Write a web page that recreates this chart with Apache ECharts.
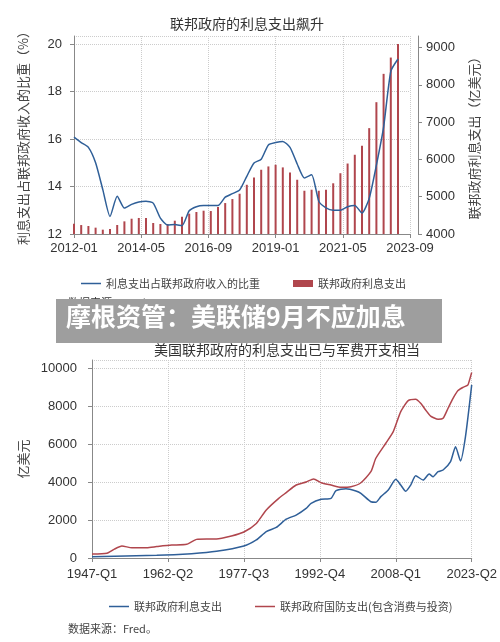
<!DOCTYPE html>
<html><head><meta charset="utf-8">
<script src="https://cdn.jsdelivr.net/npm/echarts@6/dist/echarts.min.js"></script>
<style>html,body{margin:0;padding:0;background:#fff}#c{width:500px;height:642px}</style>
</head><body><div id="c"></div>
<script>
// top chart: quarterly, months since 2012-01
const topTicks = ['2012-01', '2014-05', '2016-09', '2019-01', '2021-05', '2023-09'];
const ratio = [16.08, 15.85, 15.65, 15.0, 13.87, 12.74, 13.59, 13.09, 13.25, 13.35, 13.38, 13.3,
  12.67, 12.38, 12.4, 12.35, 12.98, 13.15, 13.2, 13.2, 13.2, 13.55, 13.7, 13.85, 14.43, 14.99,
  15.15, 15.75, 15.85, 15.9, 15.65, 14.95, 14.36, 14.5, 13.38, 13.1, 13.0, 13.0, 13.15, 13.2,
  12.88, 13.5, 14.9, 16.5, 18.85, 19.37];
const interest = [4277, 4240, 4214, 4170, 4116, 4134, 4241, 4339, 4410, 4430, 4430, 4295,
  4268, 4268, 4357, 4464, 4545, 4590, 4625, 4616, 4723, 4830, 4937, 5080, 5320, 5518,
  5723, 5812, 5857, 5786, 5652, 5455, 5160, 5188, 5160, 5190, 5360, 5630, 5890, 6125,
  6366, 6839, 7535, 8295, 8732, 9098];

// bottom chart: year (fractional) -> 亿美元
const bottomTicks = ['1947-Q1', '1962-Q2', '1977-Q3', '1992-Q4', '2008-Q1', '2023-Q2'];
const intYears = [1947, 1960, 1967, 1972, 1977.5, 1980, 1982, 1984, 1986, 1988, 1990, 1991, 1993,
  1995, 1996, 1998, 2000, 2001, 2003, 2004, 2005, 2006.5, 2008, 2009, 2010, 2011, 2012, 2013.5,
  2014.7, 2015.5, 2016.5, 2017.5, 2019, 2020, 2021, 2022, 2023.25];
const intVals = [70, 140, 230, 350, 630, 950, 1390, 1610, 2040, 2260, 2610, 2880, 3090,
  3140, 3540, 3650, 3530, 3400, 2960, 2930, 3230, 3580, 4140, 3840, 3510, 3840, 4330, 4100,
  4420, 4280, 4540, 4630, 5070, 5860, 5110, 6390, 9110];
const defYears = [1947, 1950, 1951.5, 1953, 1955, 1958, 1960, 1963, 1966, 1968, 1970, 1972, 1975,
  1977.5, 1980, 1982, 1984.5, 1986, 1988, 1990, 1991.5, 1993, 1995, 1997, 1999, 2001, 2003, 2004,
  2006, 2007.5, 2009, 2010.5, 2012, 2013, 2014, 2015, 2016.5, 2017.5, 2018.5, 2019.5, 2020.5,
  2021.5, 2022.5, 2023.25];
const defVals = [210, 250, 470, 630, 540, 540, 600, 680, 720, 980, 1000, 1000, 1160,
  1370, 1820, 2530, 3140, 3440, 3840, 4000, 4160, 3960, 3840, 3720, 3750, 3960, 4540, 5250,
  6040, 6650, 7700, 8280, 8350, 8140, 7790, 7470, 7300, 7350, 7880, 8400, 8810,
  8980, 9110, 9770];

const blue = '#2f5f98';
const red = '#b0464d';
const font = '"Noto Sans CJK SC", sans-serif';
const axisTxt = { color: '#333', fontSize: 13, fontFamily: 'Arial, "Liberation Sans", sans-serif' };
const dotted = { show: true, lineStyle: { color: '#ccc', type: 'dotted' } };
const plain = (v) => String(v);
const legendTxt = { fontSize: 11, color: '#444', fontFamily: font };
const lg = (name, left, top, h) => ({ data: [name], left, top, icon: 'rect', itemWidth: 20, itemHeight: h, textStyle: legendTxt });

const chart = echarts.init(document.getElementById('c'));
chart.setOption({
  animation: false,
  title: [
    { text: '联邦政府的利息支出飙升', left: 242, top: 12, textAlign: 'center',
      textStyle: { fontSize: 14, fontWeight: 'normal', color: '#333', fontFamily: font } },
    { text: '美国联邦政府的利息支出已与军费开支相当', left: 282, top: 338, textAlign: 'center',
      textStyle: { fontSize: 14, fontWeight: 'normal', color: '#333', fontFamily: font } },
  ],
  legend: [
    lg('利息支出占联邦政府收入的比重', 76, 273, 1.5),
    lg('联邦政府利息支出', 288, 273, 7),
    lg('联邦政府利息支出 ', 104, 596, 1.5),
    lg('联邦政府国防支出(包含消费与投资)', 250, 596, 1.5),
  ],
  grid: [
    { left: 74, right: 90, top: 36, bottom: 408 },
    { left: 92, right: 27, top: 360, bottom: 84 },
  ],
  xAxis: [
    { type: 'value', gridIndex: 0, min: 0, max: 140, interval: 28,
      axisLine: { onZero: false, lineStyle: { color: '#888' } }, axisTick: { show: true, length: 4 },
      splitLine: dotted,
      axisLabel: { ...axisTxt, margin: 8, formatter: (v) => topTicks[Math.round(v / 28)] } },
    { type: 'value', gridIndex: 1, min: 0, max: 305, interval: 61,
      axisLine: { onZero: false, lineStyle: { color: '#888' } }, axisTick: { show: true, length: 4 },
      splitLine: dotted,
      axisLabel: { ...axisTxt, margin: 10, formatter: (v) => bottomTicks[Math.round(v / 61)] } },
  ],
  yAxis: [
    { type: 'value', gridIndex: 0, min: 12, max: 20.34, interval: 2, offset: 4,
      name: '利息支出占联邦政府收入的比重（%）', nameLocation: 'middle', nameGap: 40, nameRotate: 90,
      nameTextStyle: { fontSize: 13, color: '#444', fontFamily: font },
      axisLine: { show: true, lineStyle: { color: '#888' } }, axisTick: { show: true, length: 4 },
      splitLine: dotted, axisLabel: { ...axisTxt, showMaxLabel: false, formatter: plain } },
    { type: 'value', gridIndex: 0, min: 4000, max: 9310, interval: 1000, position: 'right', offset: 8,
      name: '联邦政府利息支出（亿美元）', nameLocation: 'middle', nameGap: 50, nameRotate: 90,
      nameTextStyle: { fontSize: 13, color: '#444', fontFamily: font },
      axisLine: { show: true, lineStyle: { color: '#888' } }, axisTick: { show: true, length: 4 },
      splitLine: { show: false }, axisLabel: { ...axisTxt, showMaxLabel: false, formatter: plain } },
    { type: 'value', gridIndex: 1, min: 0, max: 10420, interval: 2000, offset: 7,
      name: '亿美元', nameLocation: 'middle', nameGap: 55, nameRotate: 90,
      nameTextStyle: { fontSize: 13, color: '#444', fontFamily: font },
      axisLine: { show: true, lineStyle: { color: '#888' } }, axisTick: { show: true, length: 4 },
      splitLine: dotted, axisLabel: { ...axisTxt, showMaxLabel: false, formatter: plain } },
  ],
  series: [
    { name: '联邦政府利息支出', type: 'bar', xAxisIndex: 0, yAxisIndex: 1, barWidth: 2,
      itemStyle: { color: red }, data: interest.map((v, i) => [i * 3, v]) },
    { name: '利息支出占联邦政府收入的比重', type: 'line', xAxisIndex: 0, yAxisIndex: 0,
      symbol: 'none', smooth: 0.2, lineStyle: { color: blue, width: 1.5 }, itemStyle: { color: blue },
      data: ratio.map((v, i) => [i * 3, v]) },
    { name: '联邦政府利息支出 ', type: 'line', xAxisIndex: 1, yAxisIndex: 2, symbol: 'none', smooth: 0.2,
      lineStyle: { color: blue, width: 1.5 }, itemStyle: { color: blue },
      data: intVals.map((v, i) => [(intYears[i] - 1947) * 4, v]) },
    { name: '联邦政府国防支出(包含消费与投资)', type: 'line', xAxisIndex: 1, yAxisIndex: 2, symbol: 'none',
      smooth: 0.2, lineStyle: { color: red, width: 1.5 }, itemStyle: { color: red },
      data: defVals.map((v, i) => [(defYears[i] - 1947) * 4, v]) },
  ],
  graphic: [
    { type: 'text', left: 68, top: 297, style: { text: '数据来源：Fred。', fontSize: 11, fill: '#333', fontFamily: font } },
    { type: 'rect', shape: { x: 56, y: 299, width: 386, height: 44 }, style: { fill: '#9e9e9e' } },
    { type: 'text', left: 66, top: 304, style: { text: '摩根资管：美联储9月不应加息', fontSize: 25,
      fontWeight: 'bold', fill: '#fff', fontFamily: font } },
    { type: 'text', left: 68, top: 623, style: { text: '数据来源：Fred。', fontSize: 11, fill: '#444', fontFamily: font } },
  ],
});
</script></body></html>
